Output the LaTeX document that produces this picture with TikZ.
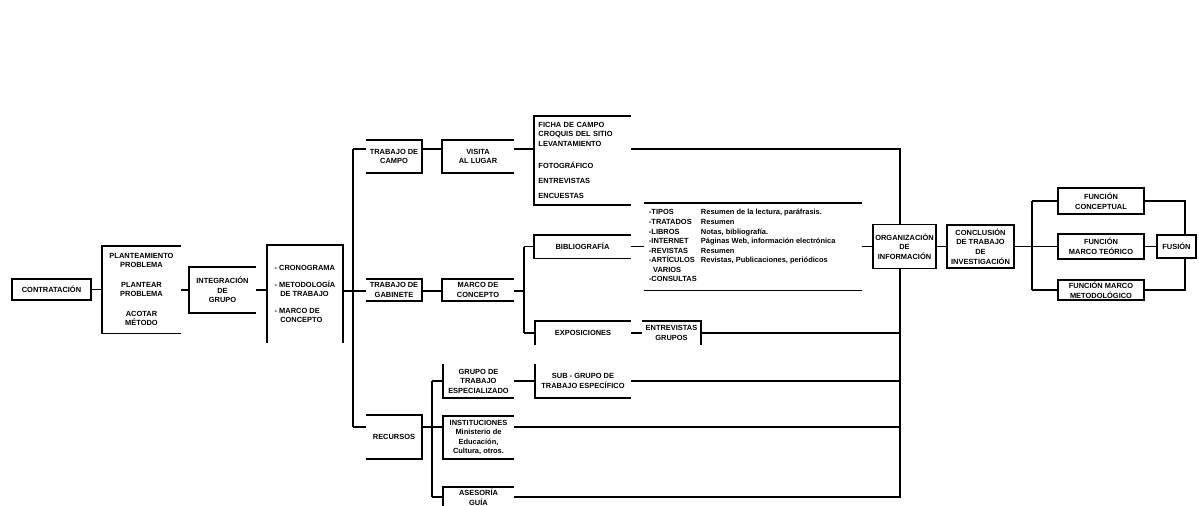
\documentclass[tikz,border=0pt]{standalone}
\usepackage{fontspec}
\setmainfont{Liberation Sans}

\begin{document}
\begin{tikzpicture}[x=0.025cm,y=-0.025cm,line width=1.25pt,
	lbl/.style={font=\fontsize{5.3}{6.8}\selectfont\bfseries,align=center,inner sep=0pt},
	sz/.style 2 args={minimum width=#1*0.025cm,minimum height=#2*0.025cm},
	full/.style={lbl,draw,fill=white}]
		\useasboundingbox (0,0) rectangle (1199,506);

		\draw (51.5,289.5) node [full,sz={79}{21}] (contr){CONTRATACIÓN};
		\draw (141.5,289.5) node [lbl,sz={77}{86}] (plant){PLANTEAMIENTO\\PROBLEMA\\[7pt]PLANTEAR\\PROBLEMA\\[7pt]ACOTAR\\MÉTODO};
		\draw (222.5,290) node [lbl,sz={65}{44}] (integ){INTEGRACIÓN\\DE\\GRUPO};
		\draw (305,294) node [lbl,align=left,sz={74}{96}] (metod){- CRONOGRAMA\\[5pt]- METODOLOGÍA\\\hspace{4pt}DE TRABAJO\\[5pt]- MARCO DE\\\hspace{4pt}CONCEPTO};

		\draw (394,156.5) node [lbl,sz={54}{31}] (campo){TRABAJO DE\\CAMPO};
		\draw (478,156.5) node [lbl,sz={70}{31}] (visita){VISITA\\AL LUGAR};
		\draw (582.5,160.5) node [lbl,align=left,text width=2.2cm,sz={95}{87}] (fichas){FICHA DE CAMPO\\CROQUIS DEL SITIO\\LEVANTAMIENTO\\[9pt]FOTOGRÁFICO\\[4pt]ENTREVISTAS\\[4pt]ENCUESTAS};

		\draw (394,290) node [lbl,sz={54}{20}] (gabin){TRABAJO DE\\GABINETE};
		\draw (478,290) node [lbl,sz={70}{20}] (marco){MARCO DE\\CONCEPTO};
		\draw (582.5,246.5) node [lbl,sz={95}{22}] (biblio){BIBLIOGRAFÍA};
		\draw (753,246.5) node [lbl,sz={216}{86}] (fuentes){\begin{tabular}{@{}p{1.3cm}@{}p{3.9cm}@{}}
			-TIPOS & Resumen de la lectura, paráfrasis.\\
			-TRATADOS & Resumen\\
			-LIBROS & Notas, bibliografía.\\
			-INTERNET & Páginas Web, información electrónica\\
			-REVISTAS & Resumen\\
			-ARTÍCULOS & Revistas, Publicaciones, periódicos\\
			\hspace{3pt}VARIOS & \\
			-CONSULTAS &
		\end{tabular}};
		\draw (583,333) node [lbl,sz={94}{22}] (expos){EXPOSICIONES};
		\draw (671.5,333) node [lbl,sz={57}{22}] (entrev){ENTREVISTAS\\GRUPOS};

		\draw (394,437) node [lbl,sz={54}{42}] (recur){RECURSOS};
		\draw (478.5,381) node [lbl,sz={69}{32}] (grupo){GRUPO DE\\TRABAJO\\ESPECIALIZADO};
		\draw (583,381) node [lbl,sz={94}{32}] (subgr){SUB - GRUPO DE\\TRABAJO ESPECÍFICO};
		\draw (478.5,437.5) node [lbl,sz={69}{41}] (instit){INSTITUCIONES\\Ministerio de\\Educación,\\Cultura, otros.};
		\draw (478.5,497) node [lbl,sz={69}{18}] (aseso){ASESORÍA\\GUÍA};

		\draw (904.5,246.5) node [full,sz={63}{44}] (org){ORGANIZACIÓN\\DE\\INFORMACIÓN};
		\draw (980.5,246.5) node [full,sz={67}{43}] (concl){CONCLUSIÓN\\DE TRABAJO\\DE\\INVESTIGACIÓN};
		\draw (1101,201) node [full,sz={86}{26}] (fun1){FUNCIÓN\\CONCEPTUAL};
		\draw (1101,246.5) node [full,sz={86}{25}] (fun2){FUNCIÓN\\MARCO TEÓRICO};
		\draw (1101,290) node [full,sz={86}{20}] (fun3){FUNCIÓN MARCO\\METODOLÓGICO};
		\draw (1176.5,246.5) node [full,sz={39}{23}] (fin){FUSIÓN};

		\coordinate (sp1) at (353,149);
		\coordinate (sp2) at (353,291);
		\coordinate (sp3) at (353,427);
		\coordinate (g1) at (524,246.5);
		\coordinate (g2) at (524,333);
		\coordinate (r1) at (432,381);
		\coordinate (r2) at (432,427);
		\coordinate (r3) at (432,497);
		\coordinate (rt) at (900,149);
		\coordinate (rb) at (900,497);
		\coordinate (f1) at (1032,201);
		\coordinate (f3) at (1032,290);
		\coordinate (e1) at (1185,201);
		\coordinate (e3) at (1185,290);

		% open sides of the boxes
		\draw (plant.north east) -- (plant.north west) -- (plant.south west) -- (plant.south east);
		\draw (integ.north east) -- (integ.north west) -- (integ.south west) -- (integ.south east);
		\draw (metod.south west) -- (metod.north west) -- (metod.north east) -- (metod.south east);
		\draw (campo.north west) -- (campo.north east) -- (campo.south east) -- (campo.south west);
		\draw (visita.north east) -- (visita.north west) -- (visita.south west) -- (visita.south east);
		\draw (fichas.north east) -- (fichas.north west) -- (fichas.south west) -- (fichas.south east);
		\draw (gabin.north west) -- (gabin.north east) -- (gabin.south east) -- (gabin.south west);
		\draw (marco.north east) -- (marco.north west) -- (marco.south west) -- (marco.south east);
		\draw (biblio.north east) -- (biblio.north west) -- (biblio.south west) -- (biblio.south east);
		\draw (fuentes.north west) -- (fuentes.north east) (fuentes.south west) -- (fuentes.south east);
		\draw (expos.north east) -- (expos.north west) -- (expos.south west);
		\draw (entrev.north west) -- (entrev.north east) -- (entrev.south east);
		\draw (recur.north west) -- (recur.north east) -- (recur.south east) -- (recur.south west);
		\draw (grupo.north west) -- (grupo.south west) -- (grupo.south east);
		\draw (subgr.north west) -- (subgr.south west) -- (subgr.south east);
		\draw (instit.north east) -- (instit.north west) -- (instit.south west) -- (instit.south east);
		\draw (aseso.north east) -- (aseso.north west) -- (aseso.south west);

		\draw
		(contr.east) edge (plant.west)
		(integ.west -| plant.east) edge (integ.west)
		(integ.east) edge (integ.east -| metod.west)
		(metod.east |- sp2) edge (sp2)
		(sp1) edge (sp3)
		(sp1) edge (sp1 -| campo.west)
		(campo.east |- sp1) edge (sp1 -| visita.west)
		(visita.east |- sp1) edge (sp1 -| fichas.west)
		(sp2) edge (sp2 -| gabin.west)
		(gabin.east |- sp2) edge (sp2 -| marco.west)
		(marco.east |- sp2) edge (sp2 -| g1)
		(g1) edge (g2)
		(g1) edge (biblio.west)
		(biblio.east) edge (fuentes.west)
		(fuentes.east) edge (org.west)
		(g2) edge (expos.west)
		(expos.east) edge (entrev.west)
		(entrev.east) edge (entrev.east -| rt)
		(sp3) edge (sp3 -| recur.west)
		(recur.east |- r2) edge (r2)
		(r1) edge (r3)
		(r1) edge (grupo.west)
		(grupo.east) edge (subgr.west)
		(subgr.east) edge (subgr.east -| rt)
		(r2) edge (r2 -| instit.west)
		(instit.east |- r2) edge (r2 -| rt)
		(r3) edge (aseso.west)
		(org.east) edge (concl.west)
		(concl.east) edge (concl.east -| f1)
		(f1) edge (f3)
		(f1) edge (fun1.west)
		(concl.east -| f1) edge (fun2.west)
		(f3) edge (fun3.west)
		(fun2.east) edge (fin.west);
		\draw (fichas.east |- sp1) -- (rt) -- (rt |- org.north);
		\draw (rt |- org.south) -- (rb) -- (rb -| aseso.east);
		\draw (fun1.east) -- (e1) -- (e1 |- fin.north);
		\draw (e3 |- fin.south) -- (e3) -- (fun3.east);
	\end{tikzpicture}
\end{document}
